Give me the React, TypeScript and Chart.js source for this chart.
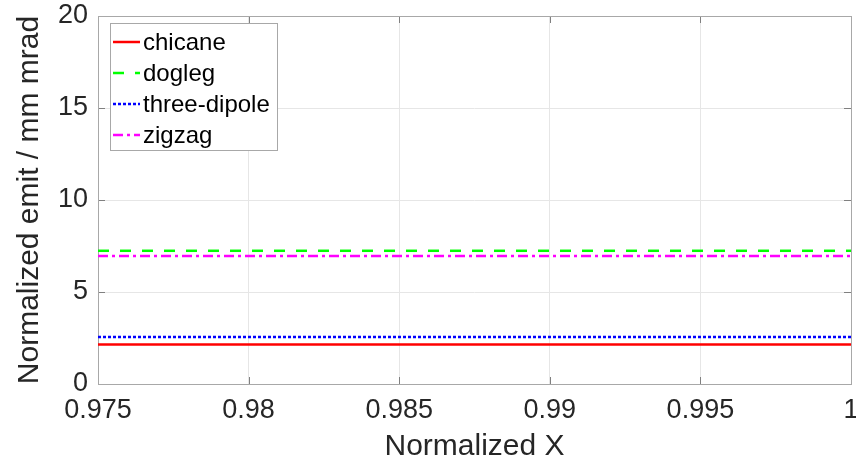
import React, { useEffect, useRef } from "react";
import { Chart, registerables } from "chart.js";

Chart.register(...registerables);

const seriesNames = ["chicane", "dogleg", "three-dipole", "zigzag"];
const seriesValues = [2.14, 7.24, 2.55, 6.96];
const seriesColors = ["#ff0000", "#00ff00", "#0000ff", "#ff00ff"];
const seriesDashes: number[][] = [[], [11, 11], [3, 2], [10, 4, 3, 4]];
const xRange = [0.975, 1];
const xTicks = [0.975, 0.98, 0.985, 0.99, 0.995, 1];
const xTickLabels = ["0.975", "0.98", "0.985", "0.99", "0.995", "1"];
const yTicks = [0, 5, 10, 15, 20];
const yTickLabels = ["0", "5", "10", "15", "20"];

const FONT = "'Liberation Sans', Arial, Helvetica, sans-serif";
const TEXT = "#262626";

const boxPlugin = {
  id: "matlabBox",
  beforeDatasetsDraw(chart: any) {
    const { ctx, chartArea: a, scales } = chart;
    ctx.save();
    ctx.strokeStyle = "#808080";
    ctx.lineWidth = 1;
    const tl = 7;
    ctx.beginPath();
    for (const v of xTicks) {
      const px = Math.round(scales.x.getPixelForValue(v)) + 0.5;
      ctx.moveTo(px, a.bottom);
      ctx.lineTo(px, a.bottom - tl);
      ctx.moveTo(px, a.top);
      ctx.lineTo(px, a.top + tl);
    }
    for (const v of yTicks) {
      const py = Math.round(scales.y.getPixelForValue(v)) + 0.5;
      ctx.moveTo(a.left, py);
      ctx.lineTo(a.left + tl, py);
      ctx.moveTo(a.right, py);
      ctx.lineTo(a.right - tl, py);
    }
    ctx.stroke();
    ctx.strokeStyle = "#a8a8a8";
    ctx.strokeRect(Math.round(a.left) + 0.5, Math.round(a.top) + 0.5, Math.round(a.right - a.left), Math.round(a.bottom - a.top));
    ctx.restore();
  },
  afterDraw(chart: any) {
    const { ctx, chartArea: a } = chart;
    const lx = a.left + 12;
    const ly = a.top + 7;
    const w = 167;
    const h = 127;
    ctx.save();
    ctx.fillStyle = "#ffffff";
    ctx.fillRect(lx, ly, w, h);
    ctx.strokeStyle = "#a8a8a8";
    ctx.lineWidth = 1;
    ctx.strokeRect(Math.round(lx) + 0.5, Math.round(ly) + 0.5, w, h);
    ctx.font = `24px ${FONT}`;
    ctx.textBaseline = "middle";
    ctx.textAlign = "left";
    chart.data.datasets.forEach((ds: any, i: number) => {
      const cy = ly + 19 + i * 31;
      ctx.strokeStyle = ds.borderColor;
      ctx.lineWidth = 2.5;
      ctx.setLineDash(ds.borderDash || []);
      ctx.beginPath();
      ctx.moveTo(lx + 3, cy);
      ctx.lineTo(lx + 30, cy);
      ctx.stroke();
      ctx.setLineDash([]);
      ctx.fillStyle = "#000000";
      ctx.fillText(ds.label, lx + 33, cy + 1);
    });
    ctx.restore();
  },
};

const zeroPad = (s: any) => {
  s.paddingTop = 0;
  s.paddingBottom = 0;
  s.paddingLeft = 0;
  s.paddingRight = 0;
};

export default function App() {
  const ref = useRef<HTMLCanvasElement | null>(null);
  useEffect(() => {
    document.body.style.margin = "0";
    const canvas = ref.current!;
    const chart = new Chart(canvas, {
      type: "line",
      data: {
        datasets: seriesNames.map((name, i) => ({
          label: name,
          data: xRange.map((x) => ({ x, y: seriesValues[i] })),
          borderColor: seriesColors[i],
          backgroundColor: seriesColors[i],
          borderWidth: 2.5,
          borderDash: seriesDashes[i],
          pointRadius: 0,
          fill: false,
        })),
      },
      options: {
        responsive: false,
        animation: false,
        layout: { padding: { top: 16, right: 5, left: 0, bottom: 0 } },
        plugins: { legend: { display: false }, tooltip: { enabled: false } },
        scales: {
          x: {
            type: "linear",
            min: xRange[0],
            max: xRange[1],
            afterBuildTicks: (s: any) => {
              s.ticks = xTicks.map((v) => ({ value: v }));
            },
            afterFit: (s: any) => {
              s.height = 85;
              zeroPad(s);
            },
            grid: { color: "#e6e6e6", drawTicks: false },
            border: { display: false },
            ticks: {
              padding: 10,
              maxRotation: 0,
              autoSkip: false,
              color: TEXT,
              font: { family: FONT, size: 27 },
              callback: (_v: any, i: number) => xTickLabels[i],
            },
            title: {
              display: true,
              text: "Normalized X",
              color: TEXT,
              font: { family: FONT, size: 30, lineHeight: 1 },
              padding: { top: 0, bottom: 7 },
            },
          },
          y: {
            type: "linear",
            min: 0,
            max: 20,
            afterBuildTicks: (s: any) => {
              s.ticks = yTicks.map((v) => ({ value: v }));
            },
            afterFit: (s: any) => {
              s.width = 98;
              zeroPad(s);
            },
            grid: { color: "#e6e6e6", drawTicks: false },
            border: { display: false },
            ticks: {
              padding: 10,
              color: TEXT,
              font: { family: FONT, size: 27 },
              callback: (_v: any, i: number) => yTickLabels[i],
            },
            title: {
              display: true,
              text: "Normalized emit / mm mrad",
              color: TEXT,
              font: { family: FONT, size: 30, lineHeight: 1 },
              padding: { top: 15, bottom: 0 },
            },
          },
        },
      },
      plugins: [boxPlugin],
    });
    return () => chart.destroy();
  }, []);
  return (
    <div style={{ width: 856, height: 469, overflow: "hidden" }}>
      <canvas ref={ref} width={856} height={469} style={{ display: "block", width: 856, height: 469 }} />
    </div>
  );
}
